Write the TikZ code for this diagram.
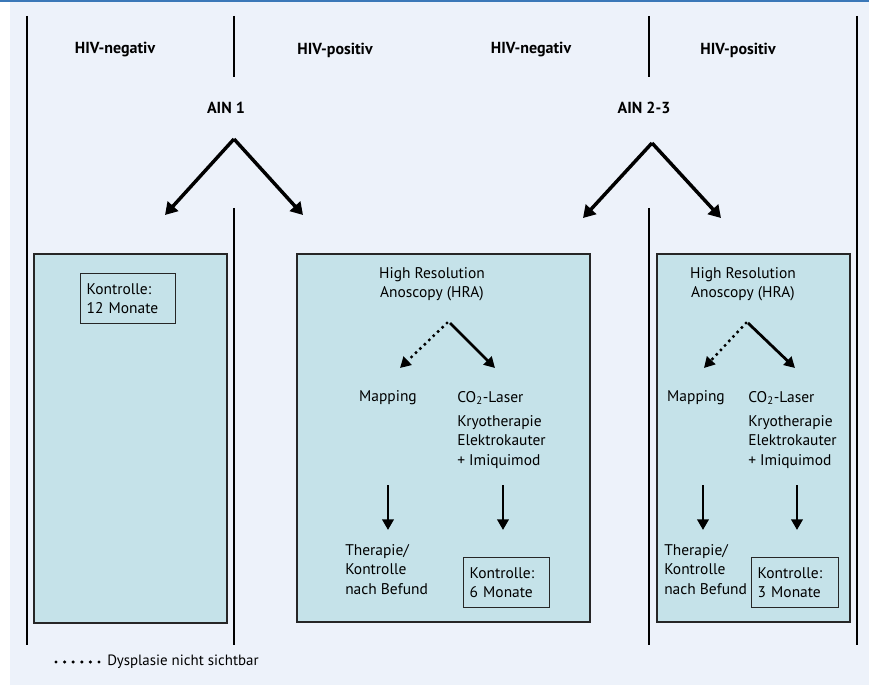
\documentclass[tikz,border=0pt]{standalone}
\usepackage{fontspec}
\setmainfont{PT Sans}
\usetikzlibrary{arrows.meta,positioning}
\definecolor{pagebg}{HTML}{EDF2FA}
\definecolor{panelbg}{HTML}{C5E2E9}
\definecolor{rulerblue}{HTML}{3B78B8}
\tikzset{
  txt/.style={font=\fontsize{11.6}{14.6}\selectfont, inner sep=0pt},
  head/.style={txt, font=\fontsize{12}{14.6}\selectfont\bfseries},
  divider/.style={line width=1.6pt},
  panel/.style={draw=black!85, line width=1.4pt, fill=panelbg},
  kbox/.style={txt, draw=black!85, line width=1pt, align=left, anchor=north west,
    inner xsep=4.5pt, inner ysep=0pt, minimum height=37.5pt},
  splitarrow/.style={line width=2.6pt, -{Triangle[length=9pt,width=10.5pt]}},
  steparrow/.style={line width=2.1pt, -{Triangle[length=8pt,width=8.5pt]}},
  hiddenarrow/.style={line width=2.6pt, line cap=round, dash pattern=on 0pt off 4.6pt,
    -{Triangle[length=8pt,width=8.5pt]}}
}
\begin{document}
\begin{tikzpicture}[x=0.75pt, y=-0.75pt]
                \useasboundingbox (0,0) rectangle (869,685);
                \fill[pagebg] (10,2) rectangle (869,685);
                \fill[rulerblue] (0,0) rectangle (869,2.5);

                % column dividers
                \draw[divider] (27,16) -- (27,645);
                \draw[divider] (234,16) -- (234,77);
                \draw[divider] (234,208) -- (234,645);
                \draw[divider] (649,16) -- (649,77);
                \draw[divider] (649,208) -- (649,645);
                \draw[divider] (857,16) -- (857,645);

                \node[head] (neg1) at (115,50) {HIV-negativ};
                \node[head] (pos1) at (335,50) {HIV-positiv};
                \node[head] (neg2) at (531,50) {HIV-negativ};
                \node[head] (pos2) at (738,50) {HIV-positiv};

                \node[head] (ain1) at (226,108) {AIN 1};
                \node[head] (ain23) at (644,108) {AIN 2-3};

                \coordinate (ain1tip) at (234,139);
                \coordinate (ain1l) at (165,215);
                \coordinate (ain1r) at (303,215);
                \coordinate (ain23tip) at (652,143);
                \coordinate (ain23l) at (583,218);
                \coordinate (ain23r) at (721,218);
                \draw[splitarrow] (ain1tip) to (ain1l);
                \draw[splitarrow] (ain1tip) to (ain1r);
                \draw[splitarrow] (ain23tip) to (ain23l);
                \draw[splitarrow] (ain23tip) to (ain23r);

                % panels
                \draw[panel] (34,254) rectangle (227,623);
                \draw[panel] (297,254) rectangle (590,622);
                \draw[panel] (657,254) rectangle (850,622);

                \node[kbox, text width=62.25pt] (k12) at (80,273) {Kontrolle:\\12 Monate};

                % HIV-negativ, AIN 2-3
                \node[txt, align=center] (hra1) at (432,284) {High Resolution\\Anoscopy (HRA)};
                \coordinate (hra1d) at (447,323);
                \coordinate (hra1s) at (450,323);
                \coordinate (map1t) at (400,368);
                \coordinate (las1t) at (495,368);
                \draw[hiddenarrow] (hra1d) to (map1t);
                \draw[steparrow] (hra1s) to (las1t);
                \node[txt] (map1) at (388,398) {Mapping};
                \node[txt, anchor=west] (co1) at (457,398) {CO\textsubscript{2}-Laser};
                \node[txt, anchor=west, align=left] (kry1) at (457,442) {Kryotherapie\\Elektrokauter\\+ Imiquimod};
                \coordinate (map1a) at (388,485);
                \coordinate (map1b) at (388,530);
                \coordinate (kry1a) at (503,485);
                \coordinate (kry1b) at (503,530);
                \draw[steparrow] (map1a) to (map1b);
                \draw[steparrow] (kry1a) to (kry1b);
                \node[txt, anchor=west, align=left] (ther1) at (345,569.5) {Therapie/\\Kontrolle\\nach Befund};
                \node[kbox, text width=55.5pt] (k6) at (463,557) {Kontrolle:\\6 Monate};

                % HIV-positiv, AIN 2-3
                \node[txt, align=center] (hra2) at (743,284) {High Resolution\\Anoscopy (HRA)};
                \coordinate (hra2d) at (746,323);
                \coordinate (hra2s) at (748,323);
                \coordinate (map2t) at (704,368);
                \coordinate (las2t) at (795,368);
                \draw[hiddenarrow] (hra2d) to (map2t);
                \draw[steparrow] (hra2s) to (las2t);
                \node[txt] (map2) at (696,398) {Mapping};
                \node[txt, anchor=west] (co2) at (748,398) {CO\textsubscript{2}-Laser};
                \node[txt, anchor=west, align=left] (kry2) at (748,442) {Kryotherapie\\Elektrokauter\\+ Imiquimod};
                \coordinate (map2a) at (703,485);
                \coordinate (map2b) at (703,530);
                \coordinate (kry2a) at (797,485);
                \coordinate (kry2b) at (797,530);
                \draw[steparrow] (map2a) to (map2b);
                \draw[steparrow] (kry2a) to (kry2b);
                \node[txt, anchor=west, align=left] (ther2) at (664,569.5) {Therapie/\\Kontrolle\\nach Befund};
                \node[kbox, text width=56.25pt] (k3) at (751,557) {Kontrolle:\\3 Monate};

                % legend
                \coordinate (dots0) at (56,662);
                \coordinate (dots1) at (99,662);
                \draw[line width=2.6pt, line cap=round, dash pattern=on 0pt off 6.45pt] (dots0) -- (dots1);
                \node[txt, font=\fontsize{11.2}{13}\selectfont, anchor=west] (legend) at (107,662) {Dysplasie nicht sichtbar};
            \end{tikzpicture}
\end{document}
